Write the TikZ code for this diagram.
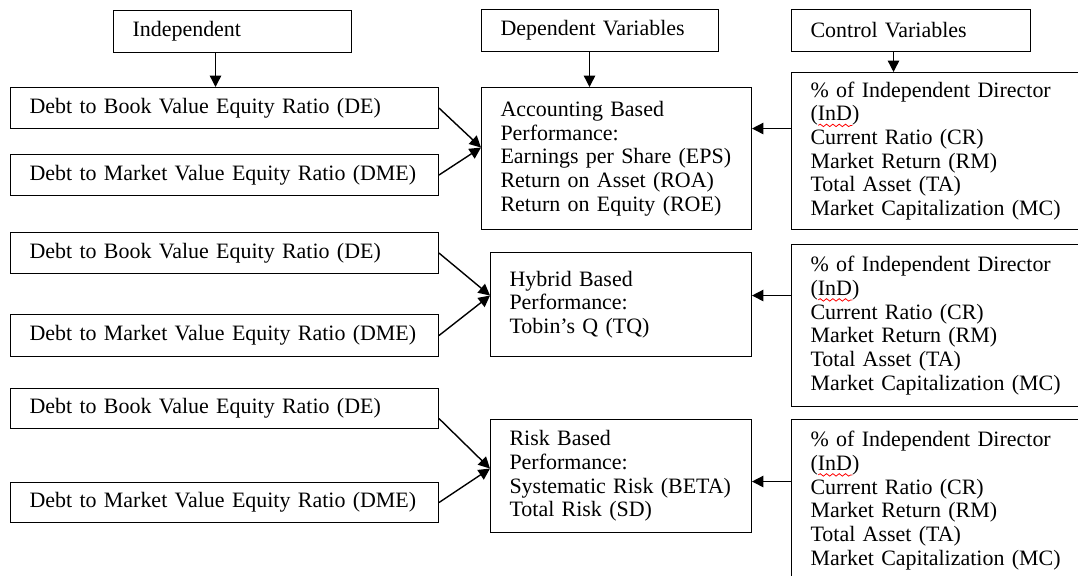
\documentclass[tikz,border=0pt]{standalone}
\usepackage{fontspec}
\setmainfont{Liberation Serif}
\usetikzlibrary{arrows.meta,decorations.pathmorphing}
\newlength\spellwd
\newcommand\spellwave[1]{\settowidth\spellwd{#1}\rlap{\smash{\tikz[baseline=0pt]\draw[red, line width=0.45pt,
    decorate, decoration={snake, amplitude=0.7pt, segment length=3.6pt}] (0pt,-2.6pt) -- (\spellwd,-2.6pt);}}#1}

\begin{document}
\begin{tikzpicture}[x=0.02cm, y=-0.02cm,
    >={Triangle[length=6.5pt,width=6.5pt]},
    box/.style={draw, line width=0.6pt, anchor=north west, align=left,
        inner xsep=0.38cm, inner ysep=0pt,
        font=\fontsize{12.5pt}{13.5pt}\selectfont},
    arr/.style={->, line width=0.8pt}]

    \useasboundingbox (0,0) rectangle (1078,575);
    \clip (0,0) rectangle (1078,575);

    \node[box, text width=4cm, minimum height=0.84cm] (indep) at (113,10) {Independent};
    \node[box, text width=3.98cm, minimum height=0.84cm] (dep) at (481,9) {Dependent Variables};
    \node[box, text width=4.02cm, minimum height=0.84cm] (ctrl) at (791,9) {Control Variables};

    \node[box, text width=7.8cm, minimum height=0.82cm] (de1) at (10,87) {Debt to Book Value Equity Ratio (DE)};
    \node[box, text width=7.8cm, minimum height=0.82cm] (dme1) at (10,154) {Debt to Market Value Equity Ratio (DME)};
    \node[box, text width=7.8cm, minimum height=0.82cm] (de2) at (10,232) {Debt to Book Value Equity Ratio (DE)};
    \node[box, text width=7.8cm, minimum height=0.84cm] (dme2) at (10,314) {Debt to Market Value Equity Ratio (DME)};
    \node[box, text width=7.8cm, minimum height=0.8cm] (de3) at (10,388) {Debt to Book Value Equity Ratio (DE)};
    \node[box, text width=7.8cm, minimum height=0.8cm] (dme3) at (10,482) {Debt to Market Value Equity Ratio (DME)};

    \node[box, text width=4.64cm, minimum height=2.84cm] (acc) at (481,87)
        {Accounting Based\\Performance:\\Earnings per Share (EPS)\\Return on Asset (ROA)\\Return on Equity (ROE)};
    \node[box, text width=4.46cm, minimum height=2.08cm] (hyb) at (490,252)
        {Hybrid Based\\Performance:\\Tobin's Q (TQ)};
    \node[box, text width=4.46cm, minimum height=2.26cm] (risk) at (490,419)
        {Risk Based\\Performance:\\Systematic Risk (BETA)\\Total Risk (SD)};

    \node[box, text width=6cm, minimum height=3.14cm] (cv1) at (791,72)
        {\% of Independent Director\\(\spellwave{InD})\\Current Ratio (CR)\\Market Return (RM)\\Total Asset (TA)\\Market Capitalization (MC)};
    \node[box, text width=6cm, minimum height=3.24cm] (cv2) at (791,244)
        {\% of Independent Director\\(\spellwave{InD})\\Current Ratio (CR)\\Market Return (RM)\\Total Asset (TA)\\Market Capitalization (MC)};
    \node[box, text width=6cm, minimum height=3.24cm] (cv3) at (791,419)
        {\% of Independent Director\\(\spellwave{InD})\\Current Ratio (CR)\\Market Return (RM)\\Total Asset (TA)\\Market Capitalization (MC)};

    \draw[arr] ([xshift=-0.34cm]indep.south) -- ([xshift=-0.34cm]indep.south |- de1.north);
    \draw[arr] ([xshift=-0.21cm]dep.south) -- ([xshift=-0.21cm]dep.south |- acc.north);
    \draw[arr] ([xshift=-0.35cm]ctrl.south) -- ([xshift=-0.35cm]ctrl.south |- cv1.north);

    \coordinate (accin) at ([yshift=0.22cm]acc.west);
    \coordinate (hybin) at ([yshift=0.18cm]hyb.west);
    \coordinate (riskin) at ([yshift=0.15cm]risk.west);
    \draw[arr] (de1.east) -- (accin);
    \draw[arr] (dme1.east) -- (accin);
    \draw[arr] (de2.east) -- (hybin);
    \draw[arr] (dme2.east) -- (hybin);
    \draw[arr] ([yshift=-0.2cm]de3.east) -- (riskin);
    \draw[arr] (dme3.east) -- (riskin);

    \draw[arr] ([yshift=0.45cm]cv1.west) -- ([yshift=0.45cm]cv1.west -| acc.east);
    \draw[arr] ([yshift=0.6cm]cv2.west) -- ([yshift=0.6cm]cv2.west -| hyb.east);
    \draw[arr] ([yshift=0.38cm]cv3.west) -- ([yshift=0.38cm]cv3.west -| risk.east);
\end{tikzpicture}
\end{document}
